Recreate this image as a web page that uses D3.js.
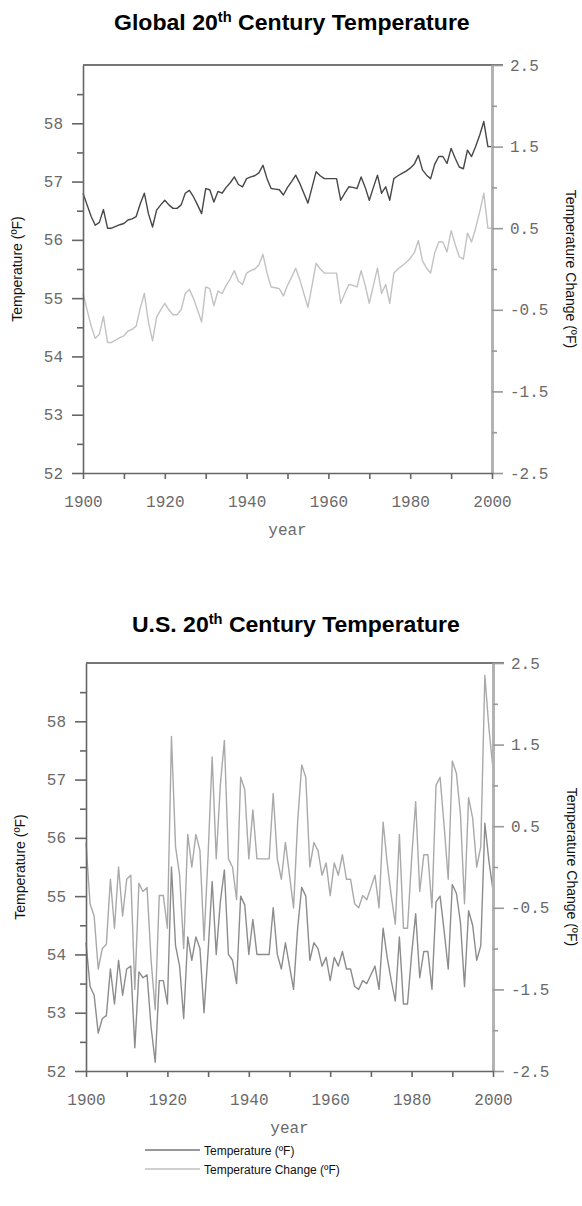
<!DOCTYPE html>
<html><head><meta charset="utf-8">
<script src="https://cdn.jsdelivr.net/npm/d3@7"></script>
<style>body{margin:0;background:#fff}svg{display:block}</style>
</head><body>
<svg id="c" width="582" height="1206"></svg>
<script>
// ---------- data ----------
const years = d3.range(1900, 2001);
const globalTemp = [56.80,56.60,56.40,56.25,56.30,56.52,56.20,56.20,56.23,56.26,
 56.28,56.34,56.36,56.40,56.62,56.80,56.45,56.22,56.51,56.60,
 56.68,56.60,56.54,56.54,56.60,56.80,56.85,56.74,56.60,56.45,
 56.88,56.86,56.65,56.83,56.80,56.90,56.98,57.08,56.95,56.91,
 57.05,57.08,57.10,57.15,57.28,57.05,56.88,56.87,56.86,56.77,
 56.90,57.00,57.11,56.97,56.80,56.63,56.90,57.17,57.10,57.05,
 57.05,57.05,57.05,56.68,56.80,56.91,56.90,56.88,57.08,56.90,
 56.68,56.90,57.11,56.80,56.91,56.68,57.05,57.10,57.14,57.18,
 57.23,57.30,57.45,57.20,57.11,57.05,57.30,57.43,57.43,57.31,
 57.57,57.40,57.25,57.22,57.54,57.43,57.60,57.80,58.03,57.60,
 57.60];
const globalChange = [-0.30,-0.50,-0.70,-0.85,-0.80,-0.58,-0.90,-0.90,-0.87,-0.84,
 -0.82,-0.76,-0.74,-0.70,-0.48,-0.30,-0.65,-0.88,-0.59,-0.50,
 -0.42,-0.50,-0.56,-0.56,-0.50,-0.30,-0.25,-0.36,-0.50,-0.65,
 -0.22,-0.24,-0.45,-0.27,-0.30,-0.20,-0.12,-0.02,-0.15,-0.19,
 -0.05,-0.02,0.00,0.05,0.18,-0.05,-0.22,-0.23,-0.24,-0.33,
 -0.20,-0.10,0.01,-0.13,-0.30,-0.47,-0.20,0.07,0.00,-0.05,
 -0.05,-0.05,-0.05,-0.42,-0.30,-0.19,-0.20,-0.22,-0.02,-0.20,
 -0.42,-0.20,0.01,-0.30,-0.19,-0.42,-0.05,0.00,0.04,0.08,
 0.13,0.20,0.35,0.10,0.01,-0.05,0.20,0.33,0.33,0.21,
 0.47,0.30,0.15,0.12,0.44,0.33,0.50,0.70,0.93,0.50,
 0.50];
const usTemp = [54.20,53.45,53.30,52.65,52.90,52.95,53.75,53.15,53.90,53.30,
 53.75,53.80,52.40,53.70,53.60,53.65,52.75,52.15,53.55,53.55,
 53.15,55.50,54.15,53.80,52.90,54.30,53.90,54.30,54.10,53.00,
 54.05,55.25,54.00,54.90,55.45,54.00,53.90,53.50,55.00,54.85,
 54.00,54.60,54.00,54.00,54.00,54.00,54.80,54.00,53.75,54.20,
 53.80,53.40,54.45,55.15,55.00,53.90,54.20,54.10,53.80,53.95,
 53.55,53.95,53.80,54.05,53.75,53.75,53.45,53.40,53.55,53.50,
 53.65,53.80,53.40,54.45,53.95,53.55,53.20,54.30,53.15,53.15,
 54.00,54.70,53.60,54.05,54.05,53.40,54.90,55.00,54.40,53.75,
 55.20,55.05,54.55,53.45,54.75,54.50,53.90,54.15,56.25,55.60,
 55.10];
const usChange = [0.30,-0.45,-0.60,-1.25,-1.00,-0.95,-0.15,-0.75,0.00,-0.60,
 -0.15,-0.10,-1.50,-0.20,-0.30,-0.25,-1.15,-1.75,-0.35,-0.35,
 -0.75,1.60,0.25,-0.10,-1.00,0.40,0.00,0.40,0.20,-0.90,
 0.15,1.35,0.10,1.00,1.55,0.10,0.00,-0.40,1.10,0.95,
 0.10,0.70,0.10,0.10,0.10,0.10,0.90,0.10,-0.15,0.30,
 -0.10,-0.50,0.55,1.25,1.10,0.00,0.30,0.20,-0.10,0.05,
 -0.35,0.05,-0.10,0.15,-0.15,-0.15,-0.45,-0.50,-0.35,-0.40,
 -0.25,-0.10,-0.50,0.55,0.05,-0.35,-0.70,0.40,-0.75,-0.75,
 0.10,0.80,-0.30,0.15,0.15,-0.50,1.00,1.10,0.50,-0.15,
 1.30,1.15,0.65,-0.45,0.85,0.60,0.00,0.25,2.35,1.70,
 1.20];
const leftMajor = [52,53,54,55,56,57,58];
const leftMinor = [52.5,53.5,54.5,55.5,56.5,57.5,58.5];
const rightMajor = [2.5,1.5,0.5,-0.5,-1.5,-2.5];
const rightMinor = [2,1,0,-1,-2];
const yearTicks = [1900,1910,1920,1930,1940,1950,1960,1970,1980,1990,2000];
const yearLabels = [1900,1920,1940,1960,1980,2000];
const seriesNames = ["Temperature (ºF)", "Temperature Change (ºF)"];
const titles = [["Global 20", "th", " Century Temperature"], ["U.S. 20", "th", " Century Temperature"]];

// ---------- drawing ----------
const svg = d3.select("#c");
const mono = "'Liberation Mono','DejaVu Sans Mono',monospace";

function drawChart(cfg) {
  const x = d3.scaleLinear().domain([1900, 2000]).range([cfg.x0, cfg.x1]);
  const yL = d3.scaleLinear().domain([52, 59]).range([cfg.yb, cfg.yt]);
  const yR = d3.scaleLinear().domain([-2.5, 2.5]).range([cfg.yb, cfg.yt]);
  const g = svg.append("g");

  // title
  const t = g.append("text").attr("x", 0).attr("y", 0)
    .attr("font-family", "'Liberation Sans Narrow','Liberation Sans',Arial,sans-serif")
    .attr("font-weight", "bold").attr("font-size", 22).attr("fill", "#000");
  t.append("tspan").text(cfg.title[0]);
  t.append("tspan").attr("font-size", 14).attr("dy", -8).text(cfg.title[1]);
  t.append("tspan").attr("dy", 8).text(cfg.title[2]);
  const w = t.node().getComputedTextLength();
  const s = cfg.titleW / w;
  t.attr("transform", `translate(${cfg.titleCx - cfg.titleW/2},${cfg.titleY}) scale(${s},1)`);

  // top border
  g.append("line").attr("x1", cfg.x0).attr("x2", cfg.x1 + 11)
    .attr("y1", cfg.yt).attr("y2", cfg.yt).attr("stroke", "#777").attr("stroke-width", 2);

  // lines
  const lineL = d3.line().x((d, i) => x(years[i])).y(d => yL(d));
  const lineR = d3.line().x((d, i) => x(years[i])).y(d => yR(d));
  g.append("path").datum(cfg.change).attr("d", lineR).attr("fill", "none")
    .attr("stroke", cfg.cChange).attr("stroke-width", 1.4).attr("stroke-linejoin", "round");
  g.append("path").datum(cfg.temp).attr("d", lineL).attr("fill", "none")
    .attr("stroke", cfg.cTemp).attr("stroke-width", 1.4).attr("stroke-linejoin", "round");

  // left axis
  const gl = g.append("g").attr("transform", `translate(${cfg.x0},0)`);
  gl.call(d3.axisLeft(yL).tickValues(leftMajor).tickSize(11).tickSizeOuter(0).tickPadding(9).tickFormat(d3.format("d")));
  gl.append("g").call(d3.axisLeft(yL).tickValues(leftMinor).tickSize(6).tickSizeOuter(0).tickFormat(""))
    .select(".domain").remove();
  gl.selectAll("path,line").attr("stroke", "#666").attr("stroke-width", 1.6);

  // right axis
  const gr = g.append("g").attr("transform", `translate(${cfg.x1},0)`);
  gr.call(d3.axisRight(yR).tickValues(rightMajor).tickSize(11).tickSizeOuter(0).tickPadding(7).tickFormat(d => d.toFixed(1)));
  gr.append("g").call(d3.axisRight(yR).tickValues(rightMinor).tickSize(5).tickSizeOuter(0).tickFormat(""))
    .select(".domain").remove();
  gr.selectAll("line").attr("stroke", "#999").attr("stroke-width", 1.6);
  gr.select(".domain").attr("stroke", "#b3b3b3").attr("stroke-width", 3);

  // bottom axis
  const gb = g.append("g").attr("transform", `translate(0,${cfg.yb})`);
  gb.call(d3.axisBottom(x).tickValues(yearTicks).tickSize(6).tickSizeOuter(0).tickPadding(17)
    .tickFormat(d => yearLabels.includes(d) ? String(d) : ""));
  gb.selectAll("path,line").attr("stroke", "#666").attr("stroke-width", 1.6);

  g.selectAll(".tick text").attr("font-family", mono).attr("font-size", 16).attr("fill", "#6a6a6a");

  // axis titles
  g.append("text").attr("transform", `translate(${cfg.x0 - 61},${(cfg.yt + cfg.yb) / 2}) rotate(-90)`)
    .attr("text-anchor", "middle").attr("font-family", "'Liberation Sans',Arial,sans-serif")
    .attr("font-size", 14).attr("fill", "#111").text(seriesNames[0]);
  g.append("text").attr("transform", `translate(${cfg.x1 + 74},${(cfg.yt + cfg.yb) / 2}) rotate(90)`)
    .attr("text-anchor", "middle").attr("font-family", "'Liberation Sans',Arial,sans-serif")
    .attr("font-size", 14).attr("fill", "#111").text(seriesNames[1]);
  g.append("text").attr("x", (cfg.x0 + cfg.x1) / 2).attr("y", cfg.yb + 62)
    .attr("text-anchor", "middle").attr("font-family", mono).attr("font-size", 16)
    .attr("fill", "#6a6a6a").text("year");
}

drawChart({x0: 83, x1: 492, yt: 65, yb: 473, temp: globalTemp, change: globalChange,
  cTemp: "#474747", cChange: "#c2c2c2", title: titles[0], titleCx: 292, titleW: 356, titleY: 30});
drawChart({x0: 86, x1: 493, yt: 663, yb: 1071, temp: usTemp, change: usChange,
  cTemp: "#8c8c8c", cChange: "#a9a9a9", title: titles[1], titleCx: 296, titleW: 328, titleY: 632});

// legend
const legY = d3.scalePoint().domain(seriesNames).range([1150, 1169]);
const legColors = ["#777", "#c0c0c0"];
const lg = svg.append("g");
seriesNames.forEach((n, i) => {
  lg.append("line").attr("x1", 145).attr("x2", 200).attr("y1", legY(n)).attr("y2", legY(n))
    .attr("stroke", legColors[i]).attr("stroke-width", 1.4);
  lg.append("text").attr("x", 204).attr("y", legY(n) + 5)
    .attr("font-family", "'Liberation Sans',Arial,sans-serif").attr("font-size", 12)
    .attr("fill", "#111").text(n);
});
</script>
</body></html>
